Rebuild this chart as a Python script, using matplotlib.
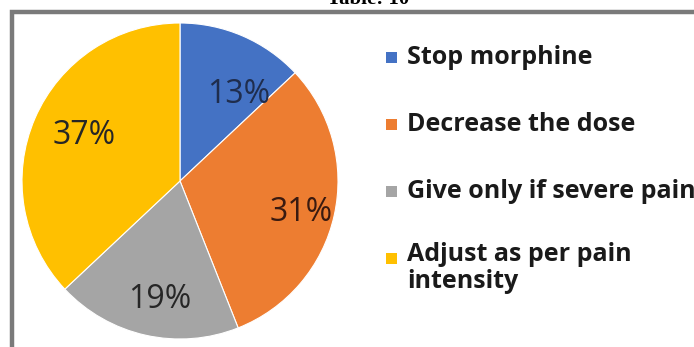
import numpy as np
import matplotlib
matplotlib.use("Agg")
import matplotlib.pyplot as plt
from matplotlib.patches import Rectangle

# morphine response survey
labels = ["Stop morphine", "Decrease the dose", "Give only if severe pain",
          "Adjust as per pain\nintensity"]
shares = [13, 31, 19, 37]
colors = ["#4472C4", "#ED7D31", "#A5A5A5", "#FFC000"]

W, H = 694, 347
fig = plt.figure(figsize=(W / 100, H / 100), dpi=100)
fig.patch.set_facecolor("white")

def fx(px):
    return px / W

def fy(py):
    return 1 - py / H

# outer frame, runs off the right and bottom edges
fig.patches.append(Rectangle((fx(12), fy(H + 20)), fx(W + 40), fy(12) - fy(H + 20),
                             transform=fig.transFigure, fill=False,
                             edgecolor="#7a7a7a", linewidth=3.2, zorder=0))

# caption sitting above the frame, cut at the top
fig.text(fx(368), fy(4), "Table: 10", family="Liberation Serif", weight="bold",
         fontsize=15, ha="center", va="baseline")

r = 158
cx, cy = 180, 181
ax = fig.add_axes([fx(cx - r), fy(cy + r), fx(2 * r), fy(cy - r) - fy(cy + r)])
wedges, _, pct = ax.pie(shares, colors=colors, startangle=90, counterclock=False,
                        autopct="%d%%", pctdistance=0.72,
                        wedgeprops=dict(edgecolor="white", linewidth=0.8),
                        textprops=dict(fontsize=23, family="Open Sans", color="#262626"))
ax.set_aspect("equal")
ax.set_xlim(-1, 1)
ax.set_ylim(-1, 1)

# nudge the percentage labels
dist = [0.66, 0.79, 0.76, 0.67]
turn = [-11, -2, 3, -2]
for w, t, d, a in zip(wedges, pct, dist, turn):
    ang = np.deg2rad((w.theta1 + w.theta2) / 2 + a)
    t.set_position((d * np.cos(ang), d * np.sin(ang)))
pct[0].set_color("#1f2d4d")
pct[1].set_color("#3a1a10")

# legend
rows = [57, 124, 191, 258]
for lab, c, y in zip(labels, colors, rows):
    fig.patches.append(Rectangle((fx(386), fy(y + 6)), fx(11), fy(y - 5) - fy(y + 6),
                                 transform=fig.transFigure, facecolor=c,
                                 edgecolor="none"))
    fig.text(fx(407), fy(y), lab, family="Open Sans", weight="bold", fontsize=18,
             color="#1a1a1a", ha="left", va="center" if "\n" not in lab else "top",
             linespacing=1.1)
fig.texts[-1].set_position((fx(407), fy(258 - 16)))

fig.savefig("out.png", dpi=100, facecolor="white")
